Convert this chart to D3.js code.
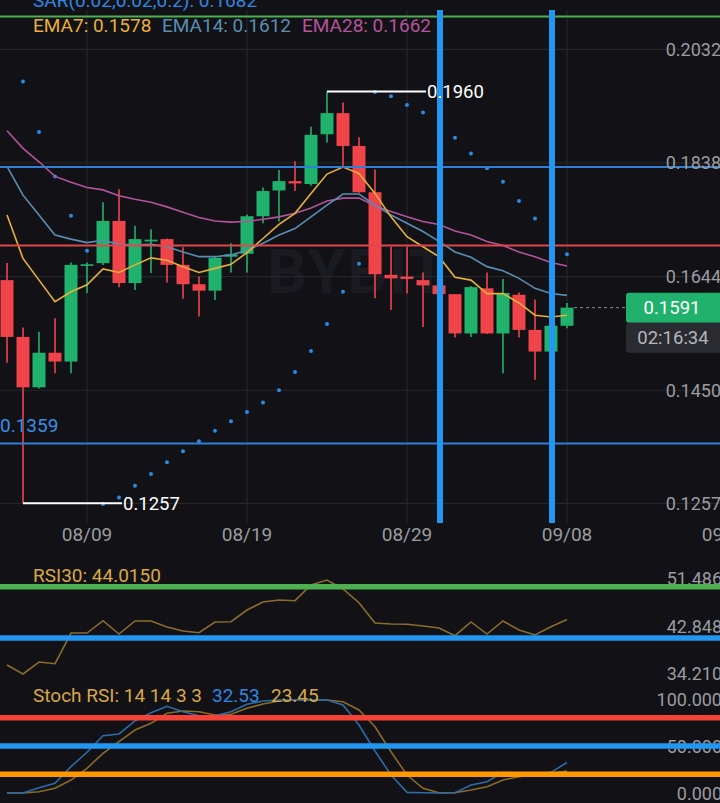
<!DOCTYPE html>
<html><head><meta charset="utf-8">
<script src="https://cdn.jsdelivr.net/npm/d3@7"></script>
<style>
html,body{margin:0;padding:0;background:#121216;overflow:hidden;}
svg{display:block;font-family:Roboto,"Noto Sans",sans-serif;}
</style></head><body>
<svg id="c" width="720" height="803"></svg>
<script>
// ---------- data ----------
const dates = ["2023-08-04","2023-08-05","2023-08-06","2023-08-07","2023-08-08","2023-08-09","2023-08-10","2023-08-11","2023-08-12","2023-08-13","2023-08-14","2023-08-15","2023-08-16","2023-08-17","2023-08-18","2023-08-19","2023-08-20","2023-08-21","2023-08-22","2023-08-23","2023-08-24","2023-08-25","2023-08-26","2023-08-27","2023-08-28","2023-08-29","2023-08-30","2023-08-31","2023-09-01","2023-09-02","2023-09-03","2023-09-04","2023-09-05","2023-09-06","2023-09-07","2023-09-08"];
const opens  = [0.1638,0.1541,0.1455,0.1514,0.1499,0.1663,0.1667,0.1739,0.1633,0.1704,0.1708,0.1664,0.1631,0.1620,0.1678,0.1683,0.1747,0.1791,0.1807,0.1802,0.1887,0.1923,0.1867,0.1788,0.1647,0.1644,0.1638,0.1629,0.1614,0.1547,0.1624,0.1547,0.1613,0.1553,0.1516,0.1560];
const highs  = [0.1667,0.1557,0.1550,0.1573,0.1668,0.1668,0.1771,0.1793,0.1731,0.1725,0.1709,0.1694,0.1644,0.1678,0.1701,0.1750,0.1796,0.1826,0.1841,0.1900,0.1960,0.1941,0.1882,0.1827,0.1695,0.1695,0.1651,0.1630,0.1614,0.1628,0.1651,0.1640,0.1617,0.1605,0.1561,0.1599];
const lows   = [0.1497,0.1257,0.1453,0.1479,0.1479,0.1616,0.1664,0.1626,0.1621,0.1650,0.1634,0.1606,0.1576,0.1604,0.1651,0.1651,0.1735,0.1738,0.1790,0.1799,0.1873,0.1831,0.1787,0.1607,0.1587,0.1615,0.1558,0.1613,0.1540,0.1541,0.1546,0.1479,0.1540,0.1468,0.1515,0.1556];
const closes = [0.1541,0.1455,0.1514,0.1499,0.1664,0.1665,0.1739,0.1633,0.1708,0.1707,0.1664,0.1631,0.1620,0.1676,0.1682,0.1747,0.1790,0.1807,0.1803,0.1886,0.1923,0.1867,0.1788,0.1648,0.1641,0.1640,0.1629,0.1614,0.1547,0.1626,0.1547,0.1616,0.1553,0.1516,0.1560,0.1591];
const ema7  = [0.1749,0.1675,0.1638,0.1601,0.1618,0.1630,0.1657,0.1651,0.1664,0.1676,0.1672,0.1661,0.1651,0.1658,0.1665,0.1685,0.1709,0.1733,0.1752,0.1786,0.1819,0.1831,0.1820,0.1786,0.1746,0.1712,0.1695,0.1678,0.1643,0.1638,0.1615,0.1615,0.1599,0.1578,0.1575,0.1578];
const ema14 = [0.1832,0.1783,0.1749,0.1715,0.1708,0.1702,0.1706,0.1699,0.1698,0.1699,0.1695,0.1686,0.1678,0.1678,0.1681,0.1689,0.1701,0.1715,0.1726,0.1746,0.1766,0.1785,0.1785,0.1766,0.1749,0.1735,0.1721,0.1704,0.1686,0.1677,0.1661,0.1654,0.1641,0.1624,0.1615,0.1612];
const ema28 = [0.1893,0.1863,0.1840,0.1815,0.1805,0.1796,0.1792,0.1782,0.1776,0.1771,0.1763,0.1754,0.1745,0.1739,0.1737,0.1738,0.1742,0.1746,0.1752,0.1761,0.1773,0.1778,0.1778,0.1765,0.1755,0.1746,0.1738,0.1733,0.1722,0.1715,0.1704,0.1697,0.1686,0.1678,0.1668,0.1662];
const sar   = [null,0.1977,0.1891,0.1815,0.1748,0.1688,0.1256,0.1267,0.1287,0.1307,0.1327,0.1346,0.1363,0.1381,0.1397,0.1413,0.1429,0.1450,0.1481,0.1517,0.1563,0.1618,0.1666,0.1959,0.1952,0.1937,0.1924,0.1904,0.1881,0.1854,0.1829,0.1806,0.1773,0.1743,0.1710,0.1682];
const rsi   = [35.76,34.12,36.30,35.99,41.57,41.57,43.81,41.39,43.76,43.76,42.67,41.94,41.63,43.58,43.63,45.76,47.21,47.58,47.45,50.30,51.21,49.58,47.08,43.39,43.21,43.16,42.85,42.48,41.08,43.58,41.39,43.76,42.12,41.21,42.72,44.02];
const stochK = [0,0,5.6,10.3,28.0,43.3,61.0,62.8,76.6,85.4,92.2,86.5,82.2,82.2,86.5,94.4,97.9,98.9,98.9,98.9,98.9,93.6,72.3,44.7,19.1,0.7,0.3,0,0.3,8.5,12.0,22.0,20.9,19.8,22.0,32.5];
const stochD = [0,0,1.4,5.0,13.8,26.3,42.2,54.6,67.0,74.1,84.8,87.2,86.5,83.0,83.7,90.1,94.7,97.9,98.9,98.9,98.9,97.1,88.3,70.5,43.9,19.1,5.0,0.3,0.3,3.2,6.7,13.8,17.4,19.9,21.0,23.45];

const priceTicks = [0.2032,0.1838,0.1644,0.1450,0.1257];
const dateTicks = ["2023-08-09","2023-08-19","2023-08-29","2023-09-08","2023-09-18"];
const rsiTicks = [51.486,42.848,34.210];
const stochTicks = [100,50,0];
const priceLines = [{v:0.2088,c:"#4caf50"},{v:0.1831,c:"#2f7fd6"},{v:0.1697,c:"#e0464b"},{v:0.1359,c:"#2f7fd6"}];
const vLineDates = ["2023-08-31","2023-09-07"];
const rsiLines = [{v:50,c:"#4caf50"},{v:40.67,c:"#2196f3"}];
const stochLines = [{v:80,c:"#f44336"},{v:50,c:"#2196f3"},{v:20,c:"#ff9800"}];
const lastPrice = 0.1591, countdown = "02:16:34";
const highLabel = {date:"2023-08-24", v:0.1960}, lowLabel = {date:"2023-08-05", v:0.1257};

// ---------- setup ----------
const svg = d3.select("#c");
const W = 720;
const parse = d3.utcParse("%Y-%m-%d");
const D = dates.map(parse);
const x = d3.scaleUtc().domain([D[0], D[D.length-1]]).range([7, 567]);
const y = d3.scaleLinear().domain([0.1257, 0.2032]).range([503.3, 49.3]);
const yR = d3.scaleLinear().domain([34.210, 51.486]).range([673.5, 578.5]);
const yS = d3.scaleLinear().domain([0, 100]).range([793, 699]);
const GREEN = "#20b26c", RED = "#ef454a";
const grid = "#25262b", axisText = "#9b9ca0";

// background
svg.append("rect").attr("width",W).attr("height",803).attr("fill","#121216");

// watermark
svg.append("text").attr("x",358).attr("y",293).attr("text-anchor","middle")
  .attr("font-size",62).attr("font-weight",700).attr("fill","#1a1b20").attr("letter-spacing",2).text("BYBIT");

// grid (main)
const main = svg.append("g");
main.selectAll(".hg").data(priceTicks).join("line")
  .attr("x1",0).attr("x2",W).attr("y1",d=>y(d)).attr("y2",d=>y(d))
  .attr("stroke",grid).attr("stroke-width",1.2);
main.selectAll(".vg").data(dateTicks.map(parse)).join("line")
  .attr("x1",d=>x(d)).attr("x2",d=>x(d)).attr("y1",10).attr("y2",523)
  .attr("stroke",grid).attr("stroke-width",1.2);

// candles
const bw = 13;
const cg = main.append("g");
D.forEach((d,i)=>{
  const up = closes[i] >= opens[i];
  const col = up ? GREEN : RED;
  cg.append("line").attr("x1",x(d)).attr("x2",x(d)).attr("y1",y(highs[i])).attr("y2",y(lows[i]))
    .attr("stroke",col).attr("stroke-width",1.6);
  const top = y(Math.max(opens[i],closes[i])), bot = y(Math.min(opens[i],closes[i]));
  cg.append("rect").attr("x",x(d)-bw/2).attr("y",top).attr("width",bw).attr("height",Math.max(1.6,bot-top)).attr("fill",col);
});

// SAR dots
main.selectAll(".sar").data(D.map((d,i)=>({d,v:sar[i]})).filter(o=>o.v!==null)).join("circle")
  .attr("cx",o=>x(o.d)).attr("cy",o=>y(o.v)).attr("r",2).attr("fill","#2a8be6");

// EMAs
const lineFn = arr => d3.line().x((d,i)=>x(D[i])).y(d=>y(d))(arr);
main.append("path").attr("d",lineFn(ema28)).attr("fill","none").attr("stroke","#b4539c").attr("stroke-width",1.6);
main.append("path").attr("d",lineFn(ema14)).attr("fill","none").attr("stroke","#5a8db3").attr("stroke-width",1.6);
main.append("path").attr("d",lineFn(ema7)).attr("fill","none").attr("stroke","#e6b03a").attr("stroke-width",1.6);

// horizontal drawing lines
main.selectAll(".pl").data(priceLines).join("line")
  .attr("x1",0).attr("x2",W).attr("y1",d=>y(d.v)).attr("y2",d=>y(d.v))
  .attr("stroke",d=>d.c).attr("stroke-width",2);
// vertical drawing lines
main.selectAll(".vl").data(vLineDates.map(parse)).join("line")
  .attr("x1",d=>x(d)+1).attr("x2",d=>x(d)+1).attr("y1",10).attr("y2",523)
  .attr("stroke","#2196f3").attr("stroke-width",6);

// left label for 0.1359 line
svg.append("text").attr("x",0).attr("y",y(0.1359)-12).attr("font-size",19).attr("fill","#3a8ee6").text("0.1359");

// high / low markers
const hx = x(parse(highLabel.date)), hy = y(highLabel.v);
main.append("line").attr("x1",hx).attr("x2",hx+99).attr("y1",hy).attr("y2",hy).attr("stroke","#fff").attr("stroke-width",2);
main.append("text").attr("x",hx+100).attr("y",hy+6.5).attr("font-size",18.5).attr("fill","#fff").text(highLabel.v.toFixed(4));
const lx = x(parse(lowLabel.date)), ly = y(lowLabel.v);
main.append("line").attr("x1",lx).attr("x2",lx+99).attr("y1",ly).attr("y2",ly).attr("stroke","#fff").attr("stroke-width",2);
main.append("text").attr("x",lx+100).attr("y",ly+6.5).attr("font-size",18.5).attr("fill","#fff").text(lowLabel.v.toFixed(4));

// price axis labels
svg.selectAll(".pt").data(priceTicks).join("text")
  .attr("x",721).attr("y",d=>y(d)+6.5).attr("text-anchor","end").attr("font-size",18).attr("fill",axisText)
  .text(d=>d.toFixed(4));

// last price dashed line and boxes
const lpY = y(lastPrice);
svg.append("line").attr("x1",x(D[D.length-1])+7).attr("x2",626).attr("y1",lpY).attr("y2",lpY)
  .attr("stroke","#8a8b90").attr("stroke-width",1).attr("stroke-dasharray","3,3");
svg.append("rect").attr("x",626).attr("y",lpY-15).attr("width",100).attr("height",30).attr("rx",3).attr("fill",GREEN);
svg.append("text").attr("x",672).attr("y",lpY+6.5).attr("text-anchor","middle").attr("font-size",18.5).attr("fill","#fff").text(lastPrice.toFixed(4));
svg.append("rect").attr("x",626).attr("y",lpY+15).attr("width",100).attr("height",30).attr("rx",3).attr("fill","#2a2b30");
svg.append("text").attr("x",673).attr("y",lpY+36.5).attr("text-anchor","middle").attr("font-size",18.5).attr("fill","#b5b6ba").text(countdown);

// date axis
const fmt = d3.utcFormat("%m/%d");
svg.selectAll(".dt").data(dateTicks.map(parse)).join("text")
  .attr("x",d=>x(d)).attr("y",541).attr("text-anchor","middle").attr("font-size",19).attr("fill",axisText)
  .text(d=>fmt(d));

// legends
svg.append("text").attr("x",33).attr("y",7).attr("font-size",19).attr("fill","#2f86e0").text("SAR(0.02,0.02,0.2): 0.1682");
svg.append("text").attr("x",33).attr("y",32).attr("font-size",19).attr("fill","#e6b03a").text("EMA7: " + ema7[ema7.length-1].toFixed(4));
svg.append("text").attr("x",162).attr("y",32).attr("font-size",19).attr("fill","#5a8db3").text("EMA14: " + ema14[ema14.length-1].toFixed(4));
svg.append("text").attr("x",302).attr("y",32).attr("font-size",19).attr("fill","#b4539c").text("EMA28: " + ema28[ema28.length-1].toFixed(4));

// ---------- RSI panel ----------
svg.selectAll(".rt").data(rsiTicks).join("text")
  .attr("x",722).attr("y",d=>yR(d)+6.5).attr("text-anchor","end").attr("font-size",18).attr("fill",axisText)
  .text(d=>d.toFixed(3));
svg.append("path").attr("d",d3.line().x((d,i)=>x(D[i])).y(d=>yR(d))(rsi))
  .attr("fill","none").attr("stroke","#8a6c2c").attr("stroke-width",1.6);
svg.selectAll(".rl").data(rsiLines).join("line")
  .attr("x1",0).attr("x2",W).attr("y1",d=>yR(d.v)).attr("y2",d=>yR(d.v))
  .attr("stroke",d=>d.c).attr("stroke-width",5.5);
svg.append("text").attr("x",33).attr("y",582).attr("font-size",19).attr("fill","#d9a845").text("RSI30: 44.0150");

// ---------- Stoch RSI panel ----------
svg.selectAll(".st").data(stochTicks).join("text")
  .attr("x",722).attr("y",d=>yS(d)+6.5).attr("text-anchor","end").attr("font-size",18).attr("fill",axisText)
  .text(d=>d.toFixed(3));
svg.append("path").attr("d",d3.line().x((d,i)=>x(D[i])).y(d=>yS(d))(stochD))
  .attr("fill","none").attr("stroke","#8a6a2a").attr("stroke-width",1.6);
svg.append("path").attr("d",d3.line().x((d,i)=>x(D[i])).y(d=>yS(d))(stochK))
  .attr("fill","none").attr("stroke","#2b6ca8").attr("stroke-width",1.6);
svg.selectAll(".sl").data(stochLines).join("line")
  .attr("x1",0).attr("x2",W).attr("y1",d=>yS(d.v)).attr("y2",d=>yS(d.v))
  .attr("stroke",d=>d.c).attr("stroke-width",5.5);
svg.append("text").attr("x",33).attr("y",702).attr("font-size",19).attr("fill","#d9a845").text("Stoch RSI: 14 14 3 3");
svg.append("text").attr("x",212).attr("y",702).attr("font-size",19).attr("fill","#2f86e0").text("32.53");
svg.append("text").attr("x",271).attr("y",702).attr("font-size",19).attr("fill","#d9a845").text("23.45");
</script>
</body></html>
